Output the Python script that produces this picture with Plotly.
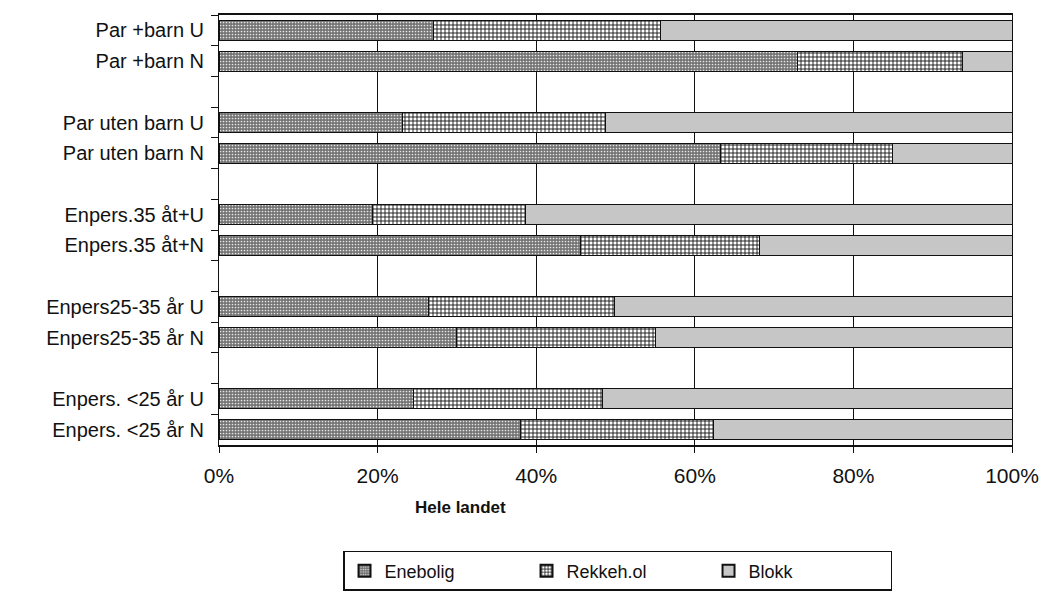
import plotly.graph_objects as go

categories = [
    "Par +barn U", "Par +barn N", " ",
    "Par uten barn U", "Par uten barn N", "  ",
    "Enpers.35 åt+U", "Enpers.35 åt+N", "   ",
    "Enpers25-35 år U", "Enpers25-35 år N", "    ",
    "Enpers. <25 år U", "Enpers. <25 år N",
]
bar_categories = [c for c in categories if c.strip()]

enebolig = [27.0, 73.0, 23.1, 63.2, 19.3, 45.6, 26.4, 30.0, 24.5, 38.0]
rekkehus = [28.7, 20.7, 25.6, 21.7, 19.4, 22.5, 23.5, 25.1, 23.8, 24.3]
blokk = [44.3, 6.3, 51.3, 15.1, 61.3, 31.9, 50.1, 44.9, 51.7, 37.7]

series_names = ["Enebolig", "Rekkeh.ol", "Blokk"]
x_ticks = [0, 20, 40, 60, 80, 100]
x_ticktext = ["0%", "20%", "40%", "60%", "80%", "100%"]
x_title = "Hele landet"

FONT = "Liberation Sans, Arial, sans-serif"

styles = [
    dict(color="#747474", pattern=dict(shape=".", fgcolor="#e6e6e6", bgcolor="#747474",
                                        size=3, solidity=0.25, fillmode="replace")),
    dict(color="white", pattern=dict(shape="+", fgcolor="#111111", bgcolor="white",
                                      size=4, solidity=0.4, fillmode="replace")),
    dict(color="#c6c6c6"),
]

fig = go.Figure()
for name, vals, st in zip(series_names, [enebolig, rekkehus, blokk], styles):
    fig.add_trace(go.Bar(
        y=bar_categories, x=vals, name=name, orientation="h",
        marker=dict(line=dict(color="#111111", width=1), **st),
        width=0.65,
    ))

fig.add_annotation(
    text="<b>" + x_title + "</b>", xref="paper", yref="paper",
    x=0.304, y=-0.1465, xanchor="center", yanchor="middle", showarrow=False,
    font=dict(size=17, family=FONT, color="#111111"),
)

fig.update_layout(
    barmode="stack",
    width=1040, height=603,
    margin=dict(l=211, r=36, t=7, b=166, autoexpand=False),
    paper_bgcolor="white", plot_bgcolor="white",
    font=dict(family=FONT, size=20, color="#111111"),
    showlegend=True,
    legend=dict(
        orientation="h", x=0.1564, xanchor="left", y=-0.2465, yanchor="top",
        bordercolor="#111111", borderwidth=1.5, font=dict(size=18),
        entrywidth=137, entrywidthmode="pixels", traceorder="normal",
        itemsizing="constant",
    ),
    xaxis=dict(
        range=[0, 100], tickvals=x_ticks, ticktext=x_ticktext,
        showgrid=True, gridcolor="#111111", gridwidth=1,
        showline=True, linecolor="#111111", linewidth=2, mirror=True,
        ticks="outside", ticklen=6, tickcolor="#111111",
        zeroline=False, automargin=False,
        tickfont=dict(size=21), ticklabelstandoff=5,
    ),
    yaxis=dict(
        type="category", categoryorder="array", categoryarray=categories,
        autorange="reversed", tickson="boundaries", automargin=False,
        showgrid=False, showline=True, linecolor="#111111", linewidth=1, mirror=True,
        ticks="outside", ticklen=7, tickcolor="#111111",
        tickfont=dict(size=20), ticklabelstandoff=10,
    ),
)

fig.write_html("out.html")
